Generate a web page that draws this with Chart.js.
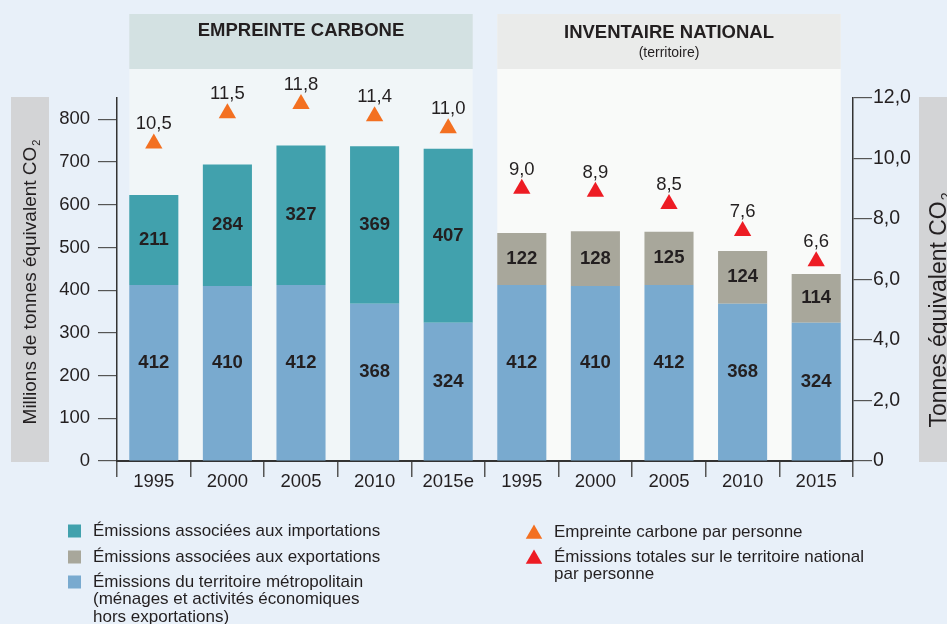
<!DOCTYPE html>
<html><head><meta charset="utf-8">
<script src="https://cdn.jsdelivr.net/npm/chart.js@4/dist/chart.umd.min.js"></script>
<style>html,body{margin:0;padding:0;background:#e8f0f9;overflow:hidden}canvas{display:block}</style>
</head><body>
<canvas id="c" width="947" height="624"></canvas>
<script>
// ---- data ----
const categories = ['1995','2000','2005','2010','2015e','1995','2000','2005','2010','2015'];
const territoire = [412,410,412,368,324,412,410,412,368,324];
const importations = [211,284,327,369,407,null,null,null,null,null];
const exportations = [null,null,null,null,null,122,128,125,124,114];
const empreinteParPersonne = [10.5,11.5,11.8,11.4,11.0,null,null,null,null,null];
const territoireParPersonne = [null,null,null,null,null,9.0,8.9,8.5,7.6,6.6];
const sectionTitles = ['EMPREINTE CARBONE','INVENTAIRE NATIONAL'];
const sectionSubtitles = ['','(territoire)'];
const leftAxisTitle = 'Millions de tonnes équivalent CO';
const rightAxisTitle = 'Tonnes équivalent CO';
const legendLeft = [
  ['Émissions associées aux importations'],
  ['Émissions associées aux exportations'],
  ['Émissions du territoire métropolitain','(ménages et activités économiques','hors exportations)']
];
const legendRight = [
  ['Empreinte carbone par personne'],
  ['Émissions totales sur le territoire national','par personne']
];

const FONT = "'Liberation Sans', Arial, Helvetica, sans-serif";
const C = {bg:'#e8f0f9', teal:'#41a1ad', blue:'#79aacf', gray:'#a8a79b', orange:'#f37021', red:'#ed1c24',
  text:'#231f20', panelL:'#f1f6f8', headL:'#d3e1e2', panelR:'#f9faf9', headR:'#eaebea', titleBox:'#d3d4d6', axis:'#333', tick:'#555'};

const fmt = v => v.toFixed(1).replace('.', ',');

function drawRotated(ctx, main, sub, cx, cy, size){
  ctx.save();
  ctx.translate(cx, cy); ctx.rotate(-Math.PI/2);
  ctx.font = size + 'px ' + FONT;
  const w1 = ctx.measureText(main).width;
  const ss = Math.round(size*0.6);
  ctx.font = ss + 'px ' + FONT;
  const w2 = ctx.measureText(sub).width;
  const total = w1 + w2 + 1;
  ctx.textAlign = 'left'; ctx.textBaseline = 'alphabetic'; ctx.fillStyle = C.text;
  const base = size*0.716/2;
  ctx.font = size + 'px ' + FONT;
  ctx.fillText(main, -total/2, base);
  ctx.font = ss + 'px ' + FONT;
  ctx.fillText(sub, -total/2 + w1 + 1, base + size*0.22);
  ctx.restore();
}

function tri(ctx, x, y, r, color){
  ctx.beginPath();
  ctx.moveTo(x, y - r);
  ctx.lineTo(x + r*Math.sqrt(3)/2, y + r/2);
  ctx.lineTo(x - r*Math.sqrt(3)/2, y + r/2);
  ctx.closePath();
  ctx.fillStyle = color; ctx.fill();
}

const deco = {
  id: 'deco',
  beforeDraw(chart){
    const ctx = chart.ctx, a = chart.chartArea;
    ctx.save();
    ctx.fillStyle = C.bg; ctx.fillRect(0, 0, chart.width, chart.height);
    const meta = chart.getDatasetMeta(0);
    const groups = [[0,4,C.panelL,C.headL],[5,9,C.panelR,C.headR]];
    groups.forEach((g, i) => {
      const e0 = meta.data[g[0]], e1 = meta.data[g[1]];
      const x0 = e0.x - e0.width/2, x1 = e1.x + e1.width/2;
      ctx.fillStyle = g[2]; ctx.fillRect(x0, 14, x1 - x0, a.bottom - 14);
      ctx.fillStyle = g[3]; ctx.fillRect(x0, 14, x1 - x0, 55);
      ctx.fillStyle = C.text; ctx.textAlign = 'center'; ctx.textBaseline = 'middle';
      ctx.font = 'bold 18.5px ' + FONT;
      const cx = (x0 + x1)/2;
      if (sectionSubtitles[i]) {
        ctx.fillText(sectionTitles[i], cx, 33);
        ctx.font = '14px ' + FONT;
        ctx.fillText(sectionSubtitles[i], cx, 53);
      } else {
        ctx.fillText(sectionTitles[i], cx, 31);
      }
    });
    ctx.fillStyle = C.titleBox;
    ctx.fillRect(11, 97, 38, a.bottom + 1 - 97);
    ctx.fillRect(919, 97, 40, a.bottom + 1 - 97);
    drawRotated(ctx, leftAxisTitle, '2', 29.5, 282, 19);
    drawRotated(ctx, rightAxisTitle, '2', 938, 310, 23);
    ctx.restore();
  },
  afterDatasetsDraw(chart){
    const ctx = chart.ctx;
    ctx.save();
    ctx.textAlign = 'center'; ctx.textBaseline = 'middle'; ctx.fillStyle = C.text;
    ctx.font = 'bold 18.5px ' + FONT;
    [0,1,2].forEach(di => {
      const meta = chart.getDatasetMeta(di);
      const ds = chart.data.datasets[di];
      meta.data.forEach((el, i) => {
        const v = ds.data[i];
        if (v == null) return;
        const off = di === 0 ? -10 : 0;
        ctx.fillText(String(v), el.x, (el.y + el.base)/2 + off);
      });
    });
    ctx.font = '18.5px ' + FONT; ctx.textBaseline = 'alphabetic';
    [3,4].forEach(di => {
      const meta = chart.getDatasetMeta(di);
      const ds = chart.data.datasets[di];
      meta.data.forEach((el, i) => {
        const v = ds.data[i];
        if (v == null) return;
        ctx.fillText(fmt(v), el.x, el.y - 10 - 4);
      });
    });
    ctx.restore();
  },
  afterDraw(chart){
    const ctx = chart.ctx;
    ctx.save();
    ctx.font = '17px ' + FONT; ctx.textAlign = 'left'; ctx.textBaseline = 'middle';
    const lcol = [C.teal, C.gray, C.blue];
    const ly = [531, 557, 582];
    legendLeft.forEach((lines, i) => {
      ctx.fillStyle = lcol[i]; ctx.fillRect(68, ly[i] - 6.5, 13, 13);
      ctx.fillStyle = C.text;
      lines.forEach((t, j) => ctx.fillText(t, 93, ly[i] + j*17.5));
    });
    const rcol = [C.orange, C.red];
    const ry = [532, 557];
    legendRight.forEach((lines, i) => {
      tri(ctx, 534, ry[i] + 2, 9.5, rcol[i]);
      ctx.fillStyle = C.text;
      lines.forEach((t, j) => ctx.fillText(t, 554, ry[i] + j*17.5));
    });
    ctx.restore();
  }
};

new Chart(document.getElementById('c'), {
  data: {
    labels: categories,
    datasets: [
      {type:'bar', label:'Émissions du territoire métropolitain', data: territoire, backgroundColor: C.blue, yAxisID:'y', stack:'s', order:3},
      {type:'bar', label:'Émissions associées aux importations', data: importations, backgroundColor: C.teal, yAxisID:'y', stack:'s', order:3},
      {type:'bar', label:'Émissions associées aux exportations', data: exportations, backgroundColor: C.gray, yAxisID:'y', stack:'s', order:3},
      {type:'line', label:'Empreinte carbone par personne', data: empreinteParPersonne, yAxisID:'y2', showLine:false,
        pointStyle:'triangle', pointRadius:10, pointBackgroundColor:C.orange, pointBorderWidth:0, borderWidth:0, clip:false, order:1},
      {type:'line', label:'Émissions totales sur le territoire national par personne', data: territoireParPersonne, yAxisID:'y2', showLine:false,
        pointStyle:'triangle', pointRadius:10, pointBackgroundColor:C.red, pointBorderWidth:0, borderWidth:0, clip:false, order:1}
    ]
  },
  options: {
    responsive:false, animation:false,
    layout:{padding:{top:98, left:0, right:0, bottom:0}},
    datasets:{bar:{barPercentage:0.667, categoryPercentage:1}},
    plugins:{legend:{display:false}, tooltip:{enabled:false}},
    scales:{
      x:{
        stacked:true,
        grid:{offset:true, drawOnChartArea:false, tickLength:16, color:C.tick, lineWidth:1.5},
        border:{display:true, color:C.axis, width:2},
        ticks:{font:{family:FONT, size:18.5}, color:C.text, padding:-6.5, maxRotation:0, autoSkip:false},
        afterFit(s){ s.height = 163; }
      },
      y:{
        position:'left', stacked:true, min:0, max:850,
        ticks:{stepSize:100, includeBounds:false, font:{family:FONT, size:18.5}, color:C.text, padding:8},
        grid:{drawOnChartArea:false, tickLength:19, color:C.tick, lineWidth:1.2},
        border:{color:C.axis, width:1.5},
        afterFit(s){ s.width = 117; }
      },
      y2:{
        position:'right', min:0, max:12,
        ticks:{stepSize:2, font:{family:FONT, size:19.5}, color:C.text, padding:1,
          callback: v => v === 0 ? '0' : fmt(v)},
        grid:{drawOnChartArea:false, tickLength:19, color:C.tick, lineWidth:1.2},
        border:{color:C.axis, width:1.5},
        afterFit(s){ s.width = 94; }
      }
    }
  },
  plugins:[deco]
});
</script>
</body></html>
